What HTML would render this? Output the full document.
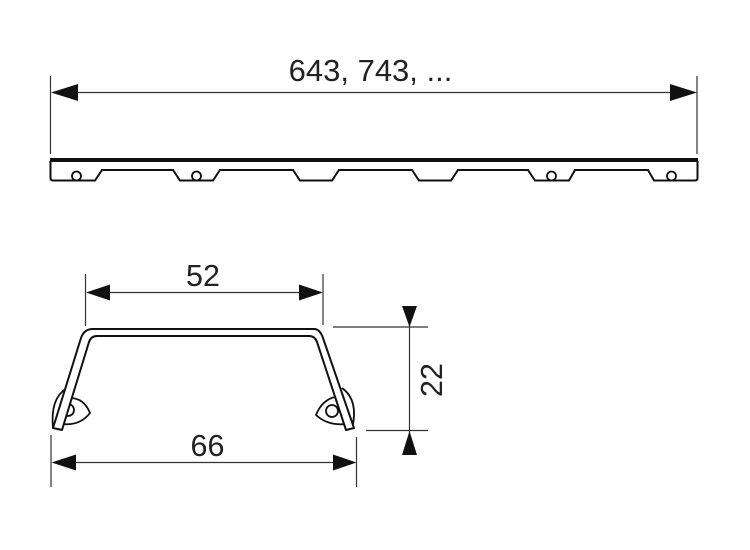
<!DOCTYPE html>
<html>
<head>
<meta charset="utf-8">
<style>
html,body{margin:0;padding:0;background:#fff;}
svg{display:block;}
text{font-family:"Liberation Sans",sans-serif;fill:#222;}
</style>
</head>
<body>
<svg width="750" height="550" viewBox="0 0 750 550" xmlns="http://www.w3.org/2000/svg">
<!-- top dimension -->
<g stroke="#333" stroke-width="1.2" fill="none">
<path d="M50.500 76V154M697 76V154M70 92.500H680"/>
</g>
<path d="M51 92.500L78 84V101Z M697 92.500L670 84V101Z" fill="#111"/>
<text x="370.500" y="81" font-size="31" text-anchor="middle">643, 743, ...</text>

<!-- strip -->
<path d="M50 160H698" stroke="#111" stroke-width="4" fill="none"/>
<path d="M50.500 161V178Q50.500 180.500 53 180.500H95L102 170H173L180 180.500H213L220 170H293L300 180.500H332L339 170H412L419 180.500H451L458 170H528L535 180.500H569L575 170H648L654 180.500H695Q697.500 180.500 697.500 178V161" stroke="#111" stroke-width="2" fill="none"/>
<g fill="#fff" stroke="#111" stroke-width="1.800">
<circle cx="76.500" cy="176" r="4.500"/>
<circle cx="196.500" cy="176" r="4.500"/>
<circle cx="551.500" cy="176" r="4.500"/>
<circle cx="671.500" cy="176" r="4.500"/>
</g>

<!-- 52 dimension -->
<g stroke="#333" stroke-width="1.2" fill="none">
<path d="M85.500 274V326M323 274V325M100 292.500H310"/>
</g>
<path d="M86 292.500L110 284.500V300.500Z M323 292.500L299 284.500V300.500Z" fill="#111"/>
<text x="203" y="286" font-size="30.500" text-anchor="middle">52</text>

<!-- 66 dimension -->
<g stroke="#333" stroke-width="1.2" fill="none">
<path d="M51 435V487M356.500 437V487M70 462.500H340"/>
</g>
<path d="M51.500 462.500L76 454.500V470.500Z M356.500 462.500L333 454.500V470.500Z" fill="#111"/>
<text x="207.500" y="456" font-size="30.500" text-anchor="middle">66</text>

<!-- 22 dimension -->
<g stroke="#333" stroke-width="1.2" fill="none">
<path d="M333 327H428M366 430.500H428M409.500 320V440"/>
</g>
<path d="M409.500 327L402 306H417Z M409.500 431L402 455H417Z" fill="#111"/>
<text transform="translate(442 380) rotate(-90)" font-size="30.500" text-anchor="middle">22</text>

<!-- clips (behind strap) -->
<g fill="none" stroke="#111" stroke-width="1.800" stroke-linejoin="round">
<path d="M67 388Q50 398 53 428"/>
<path d="M70 398Q84 398 90 413Q80 426 62 424"/>
<circle cx="68" cy="410" r="6"/>
<path d="M342 388Q359 400 352 429"/>
<path d="M335 397Q322 400 316 415Q328 426 346 424"/>
<circle cx="332" cy="411" r="6"/>
</g>
<!-- profile -->
<path d="M53 428L81 338Q84 329 93 329H314Q320 329 323 338L354 428L346 430L317 342Q315 336 309 336H97Q91 336 89 342L62 430Z" fill="#fff" stroke="#111" stroke-width="2" stroke-linejoin="round"/>
</svg>
</body>
</html>
